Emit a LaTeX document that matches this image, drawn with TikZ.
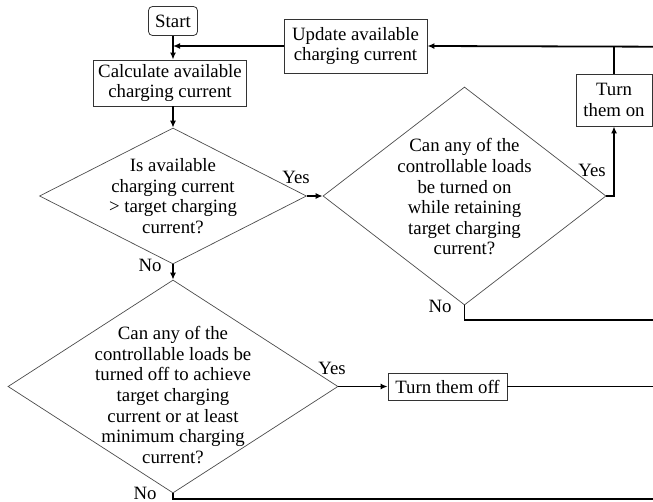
\documentclass[tikz,border=0pt]{standalone}
\usepackage{fontspec}
\setmainfont{Liberation Serif}
\newfontfamily\chartfont{Liberation Serif}
\usepackage{tikz}
\usetikzlibrary{shapes,arrows.meta,positioning,calc}

\begin{document}
\begin{tikzpicture}[x=1pt, y=-1pt,
    font=\chartfont\fontsize{18.8}{20.6}\selectfont,
    box/.style={draw=black!80, line width=0.8pt, inner sep=0pt, align=center},
    decision/.style={diamond, draw=black!70, line width=0.7pt, inner sep=0pt},
    flow/.style={line width=1.8pt},
    tip/.style={-{Latex[length=7pt,width=6pt]}}]
    \useasboundingbox (0,0) rectangle (653,502);

    % Main column (left)
    \node[box, rounded corners=4pt, minimum width=49pt, minimum height=29pt] (start) at (173,21) {Start};
    \node[box, minimum width=153pt, minimum height=46pt] (calc) at (170,83) {Calculate available\\charging current};
    \node[decision, minimum width=267pt, minimum height=136pt] (q1) at (173,196) {};
    \node[align=center] (q1text) at (173,196) {Is available\\charging current\\> target charging\\current?};
    \node[decision, minimum width=330pt, minimum height=213pt] (q3) at (173,386.5) {};
    \node[align=center] (q3text) at (173,395) {Can any of the\\controllable loads be\\turned off to achieve\\target charging\\current or at least\\minimum charging\\current?};

    % Turn-on branch (right)
    \node[box, minimum width=143pt, minimum height=54pt] (update) at (355.5,46) {Update available\\charging current};
    \node[decision, minimum width=283pt, minimum height=218pt] (q2) at (464.5,196) {};
    \node[align=center] (q2text) at (464.5,197) {Can any of the\\controllable loads\\be turned on\\while retaining\\target charging\\current?};
    \node[box, minimum width=76pt, minimum height=52pt] (on) at (614,100) {Turn\\them on};
    \node[box, minimum width=119pt, minimum height=27pt] (off) at (447.5,386.5) {Turn them off};

    % Branch labels
    \node (yes1) at (296,177) {Yes};
    \node (no1) at (150,265) {No};
    \node (yes2) at (592,170) {Yes};
    \node (no2) at (440,306) {No};
    \node (yes3) at (332,368) {Yes};
    \node (no3) at (145,493) {No};

    % Loose ends at the right edge
    \coordinate (topright) at (653,46.7);
    \coordinate (noright) at (653,320);
    \coordinate (offright) at (653,386.5);
    \coordinate (bottomright) at (653,499);

    % Connectors
    \draw[flow, tip] (start.south) -- (start.south |- calc.north);
    \draw[flow, tip] (topright) -- (update.east);
    \draw[flow, tip] (update.west) -- (start.south |- update.west);
    \draw[flow, tip] (calc.south -| q1.north) -- (q1.north);
    \draw[flow, tip] (q1.east) -- (q2.west);
    \draw[flow, tip] (q1.south) -- (q3.north);
    \draw[flow, tip] (q2.east) -| (on.south);
    \draw[flow] (on.north) -- (on.north |- topright);
    \draw[flow] (q2.south) |- (noright);
    \draw[flow, tip] (q3.east) -- (off.west);
    \draw[flow] (off.east) -- (offright);
    \draw[flow] (q3.south) |- (bottomright);
\end{tikzpicture}
\end{document}
